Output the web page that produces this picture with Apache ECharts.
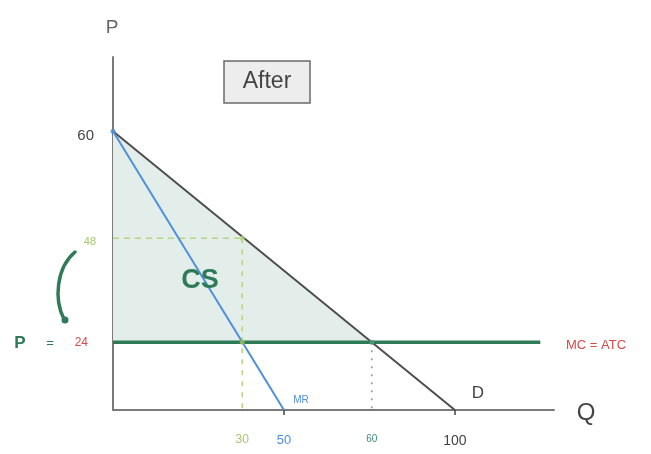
<!DOCTYPE html>
<html><head><meta charset="utf-8">
<script src="https://cdn.jsdelivr.net/npm/echarts@6/dist/echarts.min.js"></script>
<style>html,body{margin:0;padding:0;background:#fff}#c{width:651px;height:454px}</style>
</head><body><div id="c"></div>
<script>
// Sketch data (values as drawn in the sketch's own scale)
const demandLine = [[0, 60], [100, 0]];
const mrLine = [[0, 60], [50, 0]];
const mcLine = [[0, 14.6], [125, 14.6]];
const monopolyQ = 37.8;
const monopolyP = 37.0;
const competitiveQ = 75.7;
const mcLevel = 14.6;
const qTickLabels = ['30', '50', '60', '100'];
const qTickAt = [37.8, 50, 75.7, 100];
const pTickLabels = ['24', '48', '60'];
const pTickAt = [14.6, 37.0, 60];
const csArea = [[0, 60], [competitiveQ, mcLevel], [0, mcLevel]];

const FONT = 'Liberation Sans';
const chart = echarts.init(document.getElementById('c'));
const qKeys = ['q30', 'q50', 'q60', 'q100'];
const pKeys = ['p24', 'p48', 'p60'];
function pick(arr, v) { return arr.findIndex(a => Math.abs(a - v) < 0.01); }

chart.setOption({
  animation: false,
  backgroundColor: '#fff',
  grid: { left: 113, right: 97, top: 57, bottom: 44 },
  xAxis: {
    type: 'value', min: 0, max: 129,
    splitLine: { show: false },
    axisLine: { lineStyle: { color: '#7a7a7a', width: 2 } },
    axisTick: { show: true, customValues: [50, 100], length: 5, lineStyle: { color: '#444', width: 1.5 } },
    axisLabel: {
      customValues: qTickAt, margin: 24, fontFamily: FONT,
      formatter: v => { const i = pick(qTickAt, v); return i < 0 ? '' : '{' + qKeys[i] + '|' + qTickLabels[i] + '}'; },
      rich: {
        q30: { color: '#a9c56d', fontSize: 12, fontFamily: FONT },
        q50: { color: '#4a8fe0', fontSize: 13, fontFamily: FONT },
        q60: { color: '#3f8a78', fontSize: 10, fontFamily: FONT, padding: [0, 0, 8, 0] },
        q100: { color: '#444', fontSize: 14, fontFamily: FONT, padding: [0, 0, 2, 0] }
      }
    }
  },
  yAxis: {
    type: 'value', min: 0, max: 76,
    splitLine: { show: false },
    axisLine: { lineStyle: { color: '#7a7a7a', width: 2 } },
    axisTick: { show: false },
    axisLabel: {
      customValues: pTickAt, margin: 17, fontFamily: FONT,
      formatter: v => { const i = pick(pTickAt, v); return i < 0 ? '' : '{' + pKeys[i] + '|' + pTickLabels[i] + '}'; },
      rich: {
        p24: { color: '#d94a4a', fontSize: 12, fontFamily: FONT, padding: [2, 8, 0, 0] },
        p48: { color: '#a5c86a', fontSize: 11, fontFamily: FONT, padding: [8, 0, 0, 0] },
        p60: { color: '#444', fontSize: 15, fontFamily: FONT, padding: [10, 2, 0, 0] }
      }
    }
  },
  series: [
    {
      type: 'custom', silent: true, z: 1,
      data: [0],
      renderItem: (params, api) => ({
        type: 'polygon',
        shape: { points: csArea.map(p => api.coord(p)) },
        style: { fill: '#e3eeeb' }
      })
    },
    {
      type: 'line', symbol: 'none', z: 2,
      data: [[0, monopolyP], [monopolyQ, monopolyP]],
      lineStyle: { color: '#b8d483', width: 1.5, type: [6, 5] }
    },
    {
      type: 'line', symbol: 'none', z: 2,
      data: [[monopolyQ, monopolyP], [monopolyQ, 0]],
      lineStyle: { color: '#b8d483', width: 1.5, type: [5, 6] }
    },
    {
      type: 'line', symbol: 'none', z: 2,
      data: [[competitiveQ, mcLevel], [competitiveQ, 0]],
      lineStyle: { color: '#6fa596', width: 1.5, type: [2, 6] }
    },
    {
      type: 'line', symbol: 'none', z: 3,
      data: demandLine,
      lineStyle: { color: '#4d4d4d', width: 2 }
    },
    {
      type: 'line', symbol: 'none', z: 4,
      data: mrLine,
      lineStyle: { color: '#4f8fdc', width: 2 }
    },
    {
      type: 'line', symbol: 'none', z: 5,
      data: mcLine,
      lineStyle: { color: '#2f7a57', width: 3.5 }
    },
    {
      type: 'scatter', z: 6, symbolSize: 5,
      data: [
        { value: [0, 60], itemStyle: { color: '#4f8fdc' } },
        { value: [monopolyQ, monopolyP], itemStyle: { color: '#b8d483' } },
        { value: [monopolyQ, mcLevel], itemStyle: { color: '#9cc46a' } },
        { value: [competitiveQ, mcLevel], itemStyle: { color: '#4f9a82' } }
      ]
    }
  ],
  graphic: [
    { type: 'text', z: 100, x: 112, y: 28, style: { text: 'P', fontSize: 19, fill: '#666', fontFamily: FONT, align: 'center', verticalAlign: 'middle' } },
    { type: 'text', z: 100, x: 586, y: 413, style: { text: 'Q', fontSize: 24, fill: '#444', fontFamily: FONT, align: 'center', verticalAlign: 'middle' } },
    { type: 'rect', z: 100, shape: { x: 224, y: 61, width: 86, height: 42 }, style: { fill: '#ededed', stroke: '#6a6a6a', lineWidth: 1.5 } },
    { type: 'text', z: 101, x: 267, y: 82, style: { text: 'After', fontSize: 23, fill: '#444', fontFamily: FONT, align: 'center', verticalAlign: 'middle' } },
    { type: 'text', z: 100, x: 200, y: 281, style: { text: 'CS', fontSize: 27, fontWeight: 'bold', fill: '#2f7a57', fontFamily: FONT, align: 'center', verticalAlign: 'middle' } },
    { type: 'text', z: 100, x: 20, y: 343, style: { text: 'P', fontSize: 17, fontWeight: 'bold', fill: '#2f7a57', fontFamily: FONT, align: 'center', verticalAlign: 'middle' } },
    { type: 'text', z: 100, x: 50, y: 343, style: { text: '=', fontSize: 13, fill: '#2f7a57', fontFamily: FONT, align: 'center', verticalAlign: 'middle' } },
    { type: 'bezierCurve', z: 100, shape: { x1: 75, y1: 252, cpx1: 56, cpy1: 268, cpx2: 54, cpy2: 300, x2: 64, y2: 319 }, style: { stroke: '#2f7a57', lineWidth: 3.5, fill: null, lineCap: 'round' } },
    { type: 'circle', z: 100, shape: { cx: 65, cy: 320, r: 3.5 }, style: { fill: '#2f7a57' } },
    { type: 'text', z: 100, x: 596, y: 345, style: { text: 'MC = ATC', fontSize: 13, fill: '#d64a4a', fontFamily: FONT, align: 'center', verticalAlign: 'middle' } },
    { type: 'text', z: 100, x: 478, y: 393, style: { text: 'D', fontSize: 17, fill: '#444', fontFamily: FONT, align: 'center', verticalAlign: 'middle' } },
    { type: 'text', z: 100, x: 301, y: 400, style: { text: 'MR', fontSize: 10, fill: '#4f8fdc', fontFamily: FONT, align: 'center', verticalAlign: 'middle' } }
  ]
});
</script></body></html>
